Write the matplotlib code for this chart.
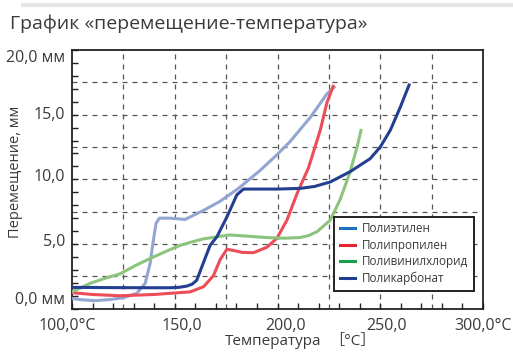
import matplotlib
matplotlib.use("Agg")
import matplotlib.pyplot as plt
from matplotlib.lines import Line2D

plt.rcParams['font.family'] = ['Open Sans', 'Noto Sans CJK JP', 'DejaVu Sans']

# данные
pe_t = [100, 104, 111, 118, 125, 131.5, 135.6, 138, 139.6, 140.9, 142.5, 147.7, 155, 164, 172, 181, 191.6, 199.7, 206, 216, 224, 228.1]
pe_d = [0.8, 0.7, 0.62, 0.7, 0.85, 1.19, 1.96, 3.5, 5.3, 6.6, 7.0, 7.0, 6.9, 7.6, 8.3, 9.3, 10.7, 11.9, 12.9, 14.8, 16.6, 17.2]

pp_t = [100, 110, 123.4, 140, 147.7, 157.5, 164, 168.8, 172.1, 175.4, 178.6, 183, 188.3, 194.8, 199.7, 204.6, 209.5, 215.1, 220.8, 224, 227.3]
pp_d = [1.24, 1.1, 1.0, 1.1, 1.19, 1.3, 1.7, 2.55, 3.8, 4.6, 4.5, 4.35, 4.33, 4.75, 5.44, 6.85, 8.9, 10.9, 13.8, 15.9, 17.3]

pvc_t = [100, 108.8, 116, 123.4, 131, 139.6, 146, 152.6, 158, 164, 172.1, 177, 186, 194.8, 203, 211, 215, 219.2, 225.7, 230.5, 235.4, 238.7, 240.8]
pvc_d = [1.3, 1.96, 2.35, 2.7, 3.35, 4.0, 4.45, 4.9, 5.15, 5.4, 5.6, 5.7, 5.6, 5.5, 5.45, 5.5, 5.65, 5.95, 6.85, 8.45, 10.6, 12.5, 13.9]

pc_t = [100, 120, 140, 147.7, 152, 155.9, 158.5, 160.7, 163.2, 167.2, 170.5, 175.4, 180.2, 183.4, 190, 199.7, 211, 218, 225.7, 235.4, 245.1, 250, 254.9, 259.8, 264.3]
pc_d = [1.65, 1.63, 1.62, 1.62, 1.65, 1.75, 1.9, 2.2, 3.25, 4.9, 5.56, 7.1, 8.8, 9.25, 9.25, 9.25, 9.3, 9.45, 9.8, 10.6, 11.6, 12.5, 13.8, 15.6, 17.4]

x_ticks = [100, 150, 200, 250, 300]
x_labels = ["100,0°C", "150,0", "200,0", "250,0", "300,0°C"]
y_ticks = [0, 5, 10, 15, 20]
y_labels = ["0,0 мм", "5,0", "10,0", "15,0", "20,0 мм"]

names = ["Полиэтилен", "Полипропилен", "Поливинилхлорид", "Поликарбонат"]
line_colors = ["#93a6d2", "#ec4d58", "#8cc47e", "#233f91"]
legend_colors = ["#1d6fbf", "#e62330", "#19a04b", "#223f8f"]

fig = plt.figure(figsize=(5.13, 3.58), dpi=100)
ax = fig.add_axes([0.1404, 0.1377, 0.8011, 0.7226])

txt = "#3a3a3a"

for t, d, c in zip([pe_t, pp_t, pvc_t, pc_t], [pe_d, pp_d, pvc_d, pc_d], line_colors):
    ax.plot(t, d, color=c, lw=2.2, solid_joinstyle='round', solid_capstyle='butt', zorder=3)

ax.set_xlim(100, 300)
ax.set_ylim(0, 20)

# сетка
for gx in range(125, 300, 25):
    ax.axvline(gx, color="#555555", lw=0.9, dashes=(4, 4), zorder=1)
for gy in [2.5, 5, 7.5, 10, 12.5, 15, 17.5]:
    ax.axhline(gy, color="#555555", lw=0.9, dashes=(4, 4), zorder=1)

ax.set_xticks(range(100, 301, 10))
ax.set_yticks(range(0, 21))
ax.tick_params(direction='in', length=4, width=1, color="#222222", labelbottom=False, labelleft=False)
for s in ax.spines.values():
    s.set_linewidth(1.3)
    s.set_color("#222222")

# подписи делений
x_shift = [-2.5, 3.5, 3.8, 3.2, 0]
for v, lab, sh in zip(x_ticks, x_labels, x_shift):
    ax.text(v + sh, -0.75, lab, ha='center', va='top', fontsize=11.5, color=txt, clip_on=False)
y_shift = [0.65, 0.15, 0.15, 0.0, -0.6]
for v, lab, sh in zip(y_ticks, y_labels, y_shift):
    ax.text(96.7, v + sh, lab, ha='right', va='center', fontsize=11.5, color=txt, clip_on=False)

fig.text(0.03, 0.52, "Перемещение, мм", rotation=90, ha='center', va='center', fontsize=10.5, color=txt)
fig.text(0.532, 0.045, "Температура", ha='center', va='center', fontsize=11, color=txt)
fig.text(0.686, 0.045, "［°C］", ha='center', va='center', fontsize=11, color=txt)

fig.text(0.02, 0.935, "График «перемещение-температура»", ha='left', va='center', fontsize=14, color=txt)
fig.add_artist(Line2D([0.045, 1.0], [0.985, 0.985], color="#e6e6e6", lw=3))

handles = [Line2D([], [], color=c, lw=2.2) for c in legend_colors]
leg = ax.legend(handles, names, loc='lower right', bbox_to_anchor=(0.978, 0.068),
                fontsize=8.4, frameon=True, fancybox=False, handlelength=1.3,
                handletextpad=0.6, borderpad=0.5, labelspacing=0.3, borderaxespad=0,
                framealpha=1)
leg.get_frame().set_edgecolor("#222222")
leg.get_frame().set_linewidth(1.4)
for t in leg.get_texts():
    t.set_color(txt)

fig.savefig("out.png", dpi=100)
